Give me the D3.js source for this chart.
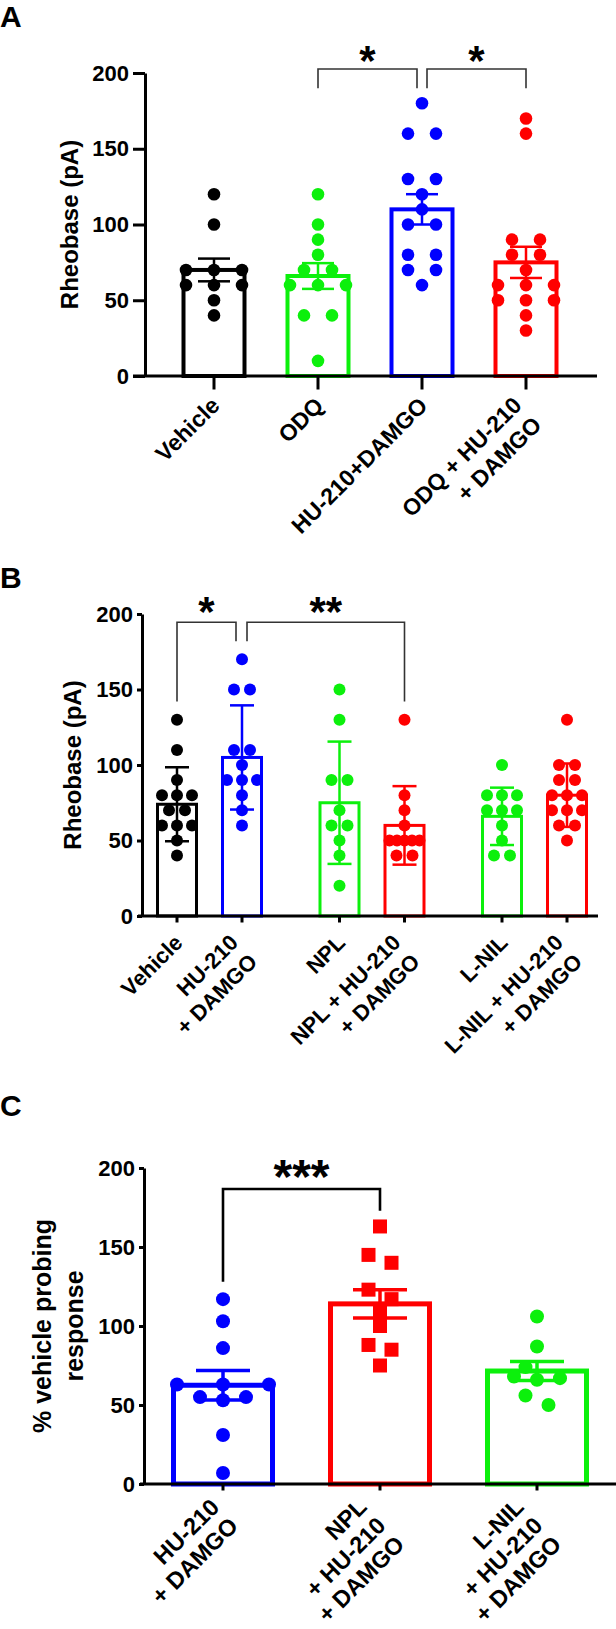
<!DOCTYPE html>
<html lang="en">
<head>
<meta charset="utf-8">
<title>rheobase figure</title>
<script src="https://d3js.org/d3.v7.min.js"></script>
<style>
  body { margin: 0; background: #fff; }
  svg { display: block; font-family: "Liberation Sans", Arial, Helvetica, sans-serif; font-weight: bold; }
</style>
</head>
<body>
<script>
// ---- data ----
const yTicks = [0, 50, 100, 150, 200];

// panel A
const aCats = ["Vehicle", "ODQ", "HU-210+DAMGO", "ODQ + HU-210|+ DAMGO"];
const aColors = ["#000000", "#0cf00c", "#0000ff", "#ff0000"];
const aMeans = [70, 66, 110, 75];
const aErrs = [7.5, 8.5, 10, 10.3];
const aPoints = [
  [120, 100, 70, 70, 70, 60, 60, 60, 50, 40],
  [120, 100, 90, 80, 70, 70, 60, 60, 60, 40, 40, 10],
  [180, 160, 160, 130, 130, 120, 110, 100, 100, 80, 80, 70, 70, 60],
  [170, 160, 90, 90, 80, 80, 70, 60, 60, 60, 50, 50, 50, 40, 30]
];
const aSig = [[1, 2, "*"], [2, 3, "*"]];

// panel B
const bCats = ["Vehicle", "HU-210|+ DAMGO", "NPL", "NPL + HU-210|+ DAMGO", "L-NIL", "L-NIL + HU-210|+ DAMGO"];
const bGroups = [0, 0, 1, 1, 2, 2];
const bColors = ["#000000", "#0000ff", "#0cf00c", "#ff0000", "#0cf00c", "#ff0000"];
const bMeans = [74, 105, 75, 60, 66, 80];
const bErrs = [24.5, 34.5, 40.5, 26, 19, 21];
const bPoints = [
  [130, 110, 90, 80, 80, 80, 70, 70, 60, 60, 60, 50, 40],
  [170, 150, 150, 110, 110, 100, 90, 90, 90, 80, 70, 60],
  [150, 130, 90, 90, 70, 60, 60, 50, 40, 20],
  [130, 80, 70, 60, 50, 50, 50, 50, 50, 40, 40],
  [100, 80, 80, 80, 70, 70, 70, 60, 50, 40, 40],
  [130, 100, 100, 90, 90, 80, 80, 80, 70, 70, 70, 60, 60, 50]
];
const bSig = [[0, 1, "*"], [1, 3, "**"]];

// panel C
const cCats = ["HU-210|+ DAMGO", "NPL|+ HU-210|+ DAMGO", "L-NIL|+ HU-210|+ DAMGO"];
const cColors = ["#0000ff", "#ff0000", "#0cf00c"];
const cMarks = ["circle", "square", "circle"];
const cMeans = [62.5, 114, 71.5];
const cErrs = [9.3, 9, 6];
const cPoints = [
  [117, 103, 86, 63, 63, 63, 55, 55, 53, 31, 7],
  [163, 145, 140, 123, 117, 110, 100, 88, 85, 75],
  [106, 87, 74, 68, 67, 66, 56, 50]
];
const cSig = [[0, 1, "***"]];

// ---- drawing ----
const svg = d3.select("body").append("svg").attr("width", 616).attr("height", 1629);

// rows of equal (or near) values spread sideways, widened/shifted if they bump a lower row
function swarm(values, y, o) {
  const sorted = values.slice().sort((a, b) => a - b);
  const bins = [];
  sorted.forEach(v => {
    const last = bins[bins.length - 1];
    if (last && v - last[0] <= o.tol) last.push(v); else bins.push([v]);
  });
  const placed = [];
  const minD = 2 * o.r + 0.5;
  bins.forEach(bin => {
    const n = bin.length;
    const s = n > 1 ? Math.min(o.step, o.maxSpan / (n - 1)) : o.step;
    const base = d3.range(n).map(i => (i - (n - 1) / 2) * s)
      .sort((p, q) => Math.abs(p) - Math.abs(q) || q - p);
    let chosen = null;
    for (const sh of [0, -0.5, 0.5, -1, 1, -1.5, 1.5, -2, 2]) {
      for (const k of [1, 2]) {
        const cand = bin.map((v, i) => ({v: v, dx: base[i] * k + sh * o.step}));
        const ok = cand.every(c => placed.every(p => Math.hypot(c.dx - p.dx, y(c.v) - y(p.v)) >= minD));
        if (ok) { chosen = cand; break; }
      }
      if (chosen) break;
    }
    if (!chosen) chosen = bin.map((v, i) => ({v: v, dx: base[i]}));
    placed.push(...chosen);
  });
  return placed;
}

function drawPanel(p) {
  const g = svg.append("g");
  const y = d3.scaleLinear().domain([0, 200]).range([p.y0, p.y200]);
  const x = p.x;
  const n = p.cats.length;

  // panel letter
  g.append("text").attr("x", 0).attr("y", p.letterY)
    .attr("font-size", 30).text(p.letter);

  // bars
  d3.range(n).forEach(i => {
    g.append("rect")
      .attr("x", x(i) - p.barW / 2)
      .attr("y", y(p.means[i]))
      .attr("width", p.barW)
      .attr("height", y(0) - y(p.means[i]))
      .attr("fill", "none")
      .attr("stroke", p.colors[i])
      .attr("stroke-width", p.barStroke);
  });

  // points
  d3.range(n).forEach(i => {
    const pts = swarm(p.points[i], y, p.swarm);
    const mark = p.marks ? p.marks[i] : "circle";
    if (mark === "square") {
      g.selectAll(null).data(pts).enter().append("rect")
        .attr("x", d => x(i) + d.dx - p.swarm.r)
        .attr("y", d => y(d.v) - p.swarm.r)
        .attr("width", p.swarm.r * 2)
        .attr("height", p.swarm.r * 2)
        .attr("fill", p.colors[i]);
    } else {
      g.selectAll(null).data(pts).enter().append("circle")
        .attr("cx", d => x(i) + d.dx)
        .attr("cy", d => y(d.v))
        .attr("r", p.swarm.r)
        .attr("fill", p.colors[i]);
    }
  });

  // error bars
  d3.range(n).forEach(i => {
    const lo = y(p.means[i] - p.errs[i]), hi = y(p.means[i] + p.errs[i]);
    const eb = g.append("g").attr("stroke", p.colors[i]).attr("stroke-width", p.errStroke);
    eb.append("line").attr("x1", x(i)).attr("x2", x(i)).attr("y1", lo).attr("y2", hi);
    [lo, hi].forEach(yy => {
      eb.append("line").attr("x1", x(i) - p.capW / 2).attr("x2", x(i) + p.capW / 2)
        .attr("y1", yy).attr("y2", yy);
    });
  });

  // y axis
  const yAxis = d3.axisLeft(y).tickValues(yTicks).tickSize(p.tick).tickSizeOuter(0).tickPadding(4);
  const ya = g.append("g").attr("transform", "translate(" + p.axisX + ",0)").call(yAxis);
  ya.select(".domain").attr("stroke-width", 3).attr("stroke", "#000");
  ya.selectAll(".tick line").attr("stroke-width", 3).attr("stroke", "#000");
  ya.selectAll(".tick text").attr("font-size", p.tickFont).attr("font-family", "inherit")
    .attr("font-weight", "bold").attr("fill", "#000");

  // x axis line + ticks
  g.append("line").attr("x1", p.xAxisFrom).attr("x2", p.xAxisTo)
    .attr("y1", y(0)).attr("y2", y(0)).attr("stroke", "#000").attr("stroke-width", 3);
  d3.range(n).forEach(i => {
    g.append("line").attr("x1", x(i)).attr("x2", x(i))
      .attr("y1", y(0)).attr("y2", y(0) + p.tick + 1.5)
      .attr("stroke", "#000").attr("stroke-width", 3);
  });

  // x labels, rotated
  p.cats.forEach((c, i) => {
    const lines = c.split("|");
    const m = (lines.length - 1) / 2;
    const lg = g.append("g")
      .attr("transform", "translate(" + (x(i) + p.lab.dx) + "," + (y(0) + p.lab.dy + p.lab.step * (lines.length - 1)) + ") rotate(-45)");
    lines.forEach((t, j) => {
      lg.append("text").attr("x", 0).attr("y", (j - m) * p.lab.lh)
        .attr("text-anchor", "end").attr("font-size", p.lab.font).text(t);
    });
  });

  // y title
  p.ytitle.forEach((t, j) => {
    g.append("text")
      .attr("transform", "translate(" + p.ytitleX[j] + "," + (p.y0 + p.y200) / 2 + ") rotate(-90)")
      .attr("text-anchor", "middle").attr("dy", "0.35em")
      .attr("font-size", p.ytitleFont).text(t);
  });

  // significance brackets
  p.sig.forEach((s, k) => {
    const legs = p.br.legs[k];
    const x1 = x(s[0]) + legs[2], x2 = x(s[1]) - legs[3];
    g.append("path")
      .attr("d", "M" + x1 + "," + y(legs[0]) + "V" + y(p.br.top) + "H" + x2 + "V" + y(legs[1]))
      .attr("fill", "none").attr("stroke", p.br.color).attr("stroke-width", p.br.width);
    g.append("text").attr("x", (x1 + x2) / 2).attr("y", y(p.br.starY))
      .attr("text-anchor", "middle").attr("font-size", p.br.starFont).text(s[2]);
  });
}

// panel A
const xA = d3.scalePoint().domain(d3.range(aCats.length)).range([214, 526]);
drawPanel({
  letter: "A", letterY: 27,
  cats: aCats, colors: aColors, means: aMeans, errs: aErrs, points: aPoints, sig: aSig,
  x: i => xA(i), y0: 376, y200: 73, axisX: 145, xAxisFrom: 133, xAxisTo: 597,
  tick: 12, tickFont: 22, barW: 61, barStroke: 4, capW: 32, errStroke: 2.5,
  swarm: {r: 6.3, step: 28, maxSpan: 57, tol: 0},
  lab: {dx: 7, dy: 31, step: 9.5, lh: 28, font: 23},
  ytitle: ["Rheobase (pA)"], ytitleX: [70], ytitleFont: 24,
  br: {top: 202.6, legs: [[190, 190, 0, 5], [190, 190, 5, 0]], color: "#333", width: 1.6, starY: 199, starFont: 42}
});

// panel B
const xB = d3.scaleLinear().domain([0, 6]).range([177, 567]);
drawPanel({
  letter: "B", letterY: 588,
  cats: bCats, colors: bColors, means: bMeans, errs: bErrs, points: bPoints, sig: bSig,
  x: i => xB(i + 0.5 * bGroups[i]), y0: 916, y200: 614, axisX: 142, xAxisFrom: 138, xAxisTo: 598,
  tick: 5, tickFont: 22, barW: 39, barStroke: 3, capW: 24, errStroke: 2.5,
  swarm: {r: 6, step: 16, maxSpan: 30, tol: 0},
  lab: {dx: 7, dy: 28, step: 9.5, lh: 27, font: 22},
  ytitle: ["Rheobase (pA)"], ytitleX: [73], ytitleFont: 24,
  br: {top: 194.5, legs: [[142, 182, 0, 6], [182, 142, 5, 0]], color: "#333", width: 1.6, starY: 192, starFont: 42}
});

// panel C
const xC = d3.scalePoint().domain(d3.range(cCats.length)).range([223, 537]);
drawPanel({
  letter: "C", letterY: 1116,
  cats: cCats, colors: cColors, marks: cMarks, means: cMeans, errs: cErrs, points: cPoints, sig: cSig,
  x: i => xC(i), y0: 1484, y200: 1168, axisX: 144, xAxisFrom: 140, xAxisTo: 616,
  tick: 5, tickFont: 22, barW: 99, barStroke: 5, capW: 54, errStroke: 3.5,
  swarm: {r: 7, step: 23, maxSpan: 100, tol: 6},
  lab: {dx: 7, dy: 25, step: 9, lh: 26.5, font: 23.5},
  ytitle: ["% vehicle probing", "response"], ytitleX: [42, 74], ytitleFont: 25,
  br: {top: 186.7, legs: [[128, 173, 0, 0]], color: "#000", width: 2.6, starY: 184, starFont: 48}
});
</script>
</body>
</html>
